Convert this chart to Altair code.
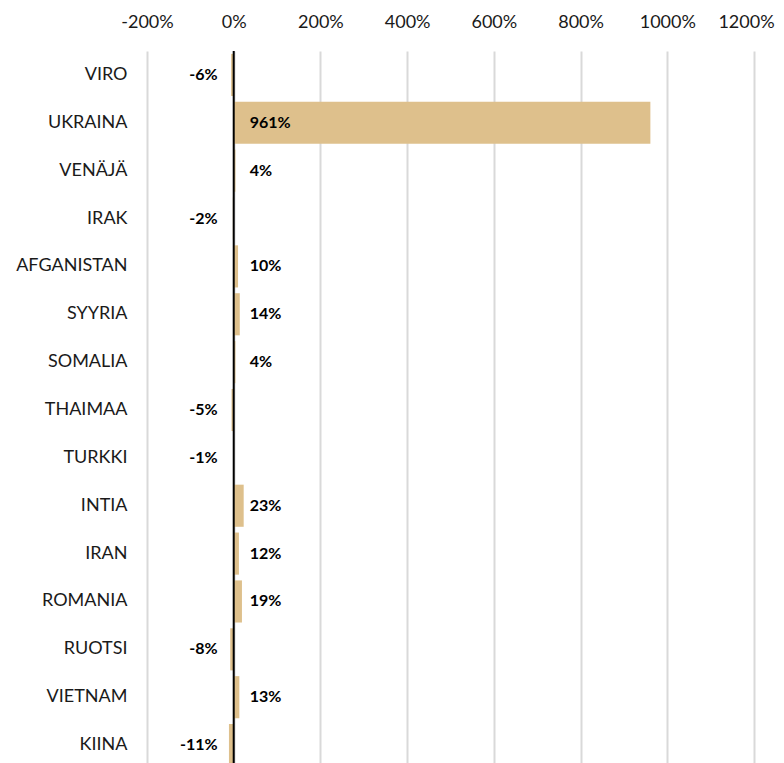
import altair as alt
import pandas as pd

countries = ["VIRO", "UKRAINA", "VENÄJÄ", "IRAK", "AFGANISTAN", "SYYRIA", "SOMALIA",
             "THAIMAA", "TURKKI", "INTIA", "IRAN", "ROMANIA", "RUOTSI", "VIETNAM", "KIINA"]
changes = [-6, 961, 4, -2, 10, 14, 4, -5, -1, 23, 12, 19, -8, 13, -11]
x_ticks = [-200, 0, 200, 400, 600, 800, 1000, 1200]

df = pd.DataFrame({"maa": countries, "muutos": changes})
df["label"] = [f"{v}%" for v in changes]

FONT = "Lato"
BAR = "#DEC08C"

y_enc = alt.Y("maa:N", sort=countries,
              scale=alt.Scale(paddingInner=0.12, paddingOuter=0.06),
              axis=alt.Axis(title=None, domain=False, ticks=False, grid=False,
                            labelFont=FONT, labelFontSize=18, labelColor="#1a1a1a",
                            labelPadding=20, minExtent=134, maxExtent=134))
x_scale = alt.Scale(domain=[-200, 1200], nice=False)

base = alt.Chart(df)

bars = base.mark_bar(color=BAR).encode(
    x=alt.X("muutos:Q", scale=x_scale,
            axis=alt.Axis(orient="top", title=None, values=x_ticks,
                          labelExpr="datum.value + '%'",
                          labelFlush=False, labelOverlap=False,
                          labelOffset={"condition": {"test": "datum.value == 1200", "value": -8},
                                       "value": 0},
                          domain=False, ticks=False, grid=True,
                          gridColor="#D9D9D9", gridWidth=2,
                          labelFont=FONT, labelFontSize=18, labelColor="#1a1a1a",
                          labelPadding=20, minExtent=38, maxExtent=38)),
    x2=alt.datum(0),
    y=y_enc,
)

zero = alt.Chart(pd.DataFrame({"z": [0]})).mark_rule(color="black", strokeWidth=2).encode(
    x=alt.X("z:Q", scale=x_scale)
)

pos = base.transform_filter("datum.muutos >= 0").mark_text(
    align="left", baseline="middle", dx=16, font=FONT, fontSize=16,
    fontWeight="bold", color="black"
).encode(x=alt.datum(0), y=alt.Y("maa:N", sort=countries), text="label:N")

neg = base.transform_filter("datum.muutos < 0").mark_text(
    align="right", baseline="middle", dx=-16, font=FONT, fontSize=16,
    fontWeight="bold", color="black"
).encode(x=alt.datum(0), y=alt.Y("maa:N", sort=countries), text="label:N")

chart = alt.layer(bars, zero, pos, neg).properties(
    width=607, height=718,
    padding={"left": 5, "top": 5, "right": 0, "bottom": 5}
).configure_view(stroke=None)

chart.save("out.html", embed_options={"renderer": "svg", "actions": False})
